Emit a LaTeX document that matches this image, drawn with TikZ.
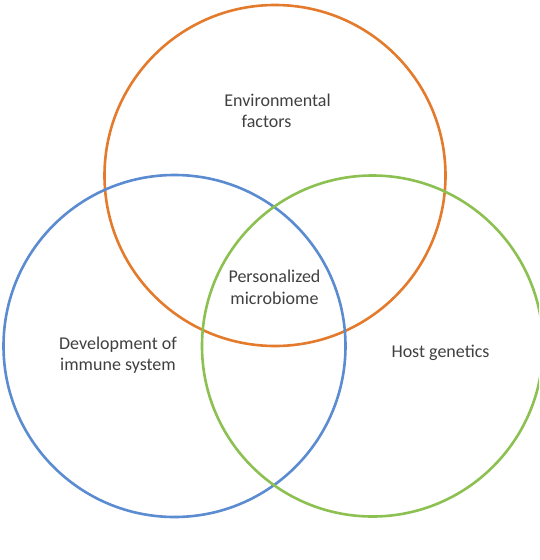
\documentclass[tikz,border=0pt]{standalone}
\usepackage{fontspec}
\setmainfont{Carlito}
\definecolor{vorange}{HTML}{E47B2C}
\definecolor{vblue}{HTML}{5B8BD0}
\definecolor{vgreen}{HTML}{8CC152}
\definecolor{vtext}{HTML}{404040}
\tikzset{
  ring/.style={draw, line width=2.6pt, fill=none},
  lbl/.style={text=vtext, align=center, font=\fontsize{18}{21.5}\selectfont, inner sep=0pt}
}
\begin{document}
\begin{tikzpicture}[x=1pt,y=-1pt]
\fill[white] (0,0) rectangle (539,560);
\useasboundingbox (0,0) rectangle (539,560);
\clip (0,0) rectangle (539,560);
\draw[ring, vorange] (275,175.5) circle[radius=170.5];
\draw[ring, vblue] (174.5,346) circle[radius=171];
\draw[ring, vgreen] (372.5,346) circle[radius=170.5];
\node[lbl] (env) at (277.5,111) {Environmental\\\hspace*{-22pt}factors};
\node[lbl] (pm) at (274.5,287.5) {Personalized\\microbiome};
\node[lbl] (dev) at (118,355) {Development of\\immune system};
\node[lbl] (host) at (440.5,352.7) {Host genetics};
\end{tikzpicture}
\end{document}
